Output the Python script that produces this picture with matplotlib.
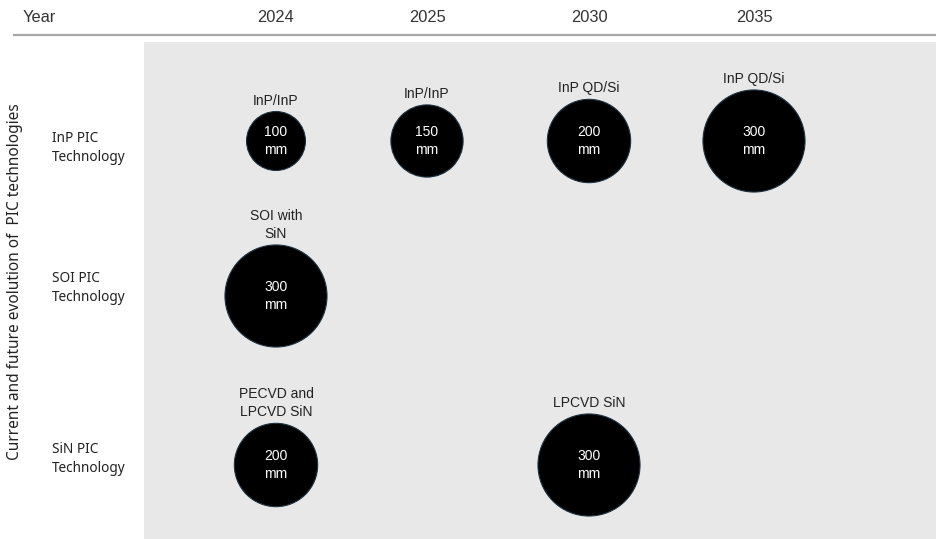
import numpy as np
import matplotlib
matplotlib.use("Agg")
import matplotlib.pyplot as plt
from matplotlib.patches import Rectangle

# --- data ---
years = ["2024", "2025", "2030", "2035"]
technologies = ["InP PIC\nTechnology", "SOI PIC\nTechnology", "SiN PIC\nTechnology"]

bubble_row = [0, 0, 0, 0, 1, 2, 2]
bubble_year = ["2024", "2025", "2030", "2035", "2024", "2024", "2030"]
wafer_mm = [100, 150, 200, 300, 300, 200, 300]
bubble_label = ["InP/InP", "InP/InP", "InP QD/Si", "InP QD/Si",
                "SOI with\nSiN", "PECVD and\nLPCVD SiN", "LPCVD SiN"]

y_title = "Current and future evolution of  PIC technologies"

# --- layout (pixel units of the figure) ---
W, H, DPI = 936, 539, 100
col_x = {"2024": 276, "2025": 427, "2030": 589, "2035": 754}
row_y = [141, 296, 465]
row_label_y = [148, 288, 459]
size_per_mm = 18.0

fig = plt.figure(figsize=(W / DPI, H / DPI), dpi=DPI)
ax = fig.add_axes([0, 0, 1, 1])
ax.set_xlim(0, W)
ax.set_ylim(H, 0)
ax.axis("off")

# gray panel + header rule
ax.add_patch(Rectangle((144, 42), W - 144, H - 42, facecolor="#e8e8e8",
                       edgecolor="none", zorder=0))
ax.plot([14, W], [35, 35], color="#a8a8a8", lw=1.6, zorder=1)

ax.text(23, 18, "Year", fontsize=11.8, family="Liberation Sans", color="#333333",
        ha="left", va="center")
for yr in years:
    ax.text(col_x[yr], 18, yr, fontsize=11.8, family="Liberation Sans",
            color="#333333", ha="center", va="center")

for i, tech in enumerate(technologies):
    ax.text(52, row_label_y[i], tech, fontsize=9.8, family="Noto Sans",
            color="#222222", ha="left", va="center", linespacing=1.35)

ax.text(15, 282, y_title, rotation=90, fontsize=11.1, family="Noto Sans",
        color="#222222", ha="center", va="center")

xs = np.array([col_x[y] for y in bubble_year])
ys = np.array([row_y[r] for r in bubble_row])
sizes = np.array(wafer_mm) * size_per_mm
ax.scatter(xs, ys, s=sizes, c="black", edgecolors="#1c3344", linewidths=0.8,
           zorder=3)

radius_px = 0.5 * np.sqrt(sizes) * DPI / 72
for x, y, r, mm, lab in zip(xs, ys, radius_px, wafer_mm, bubble_label):
    ax.text(x, y, f"{mm}\nmm", color="white", fontsize=10,
            family="Liberation Sans", ha="center", va="center",
            linespacing=1.35, zorder=4)
    ax.text(x, y - r - 4, lab, color="#222222", fontsize=10,
            family="Liberation Sans", ha="center", va="bottom",
            linespacing=1.35, zorder=4)

fig.savefig("out.png", dpi=DPI)
